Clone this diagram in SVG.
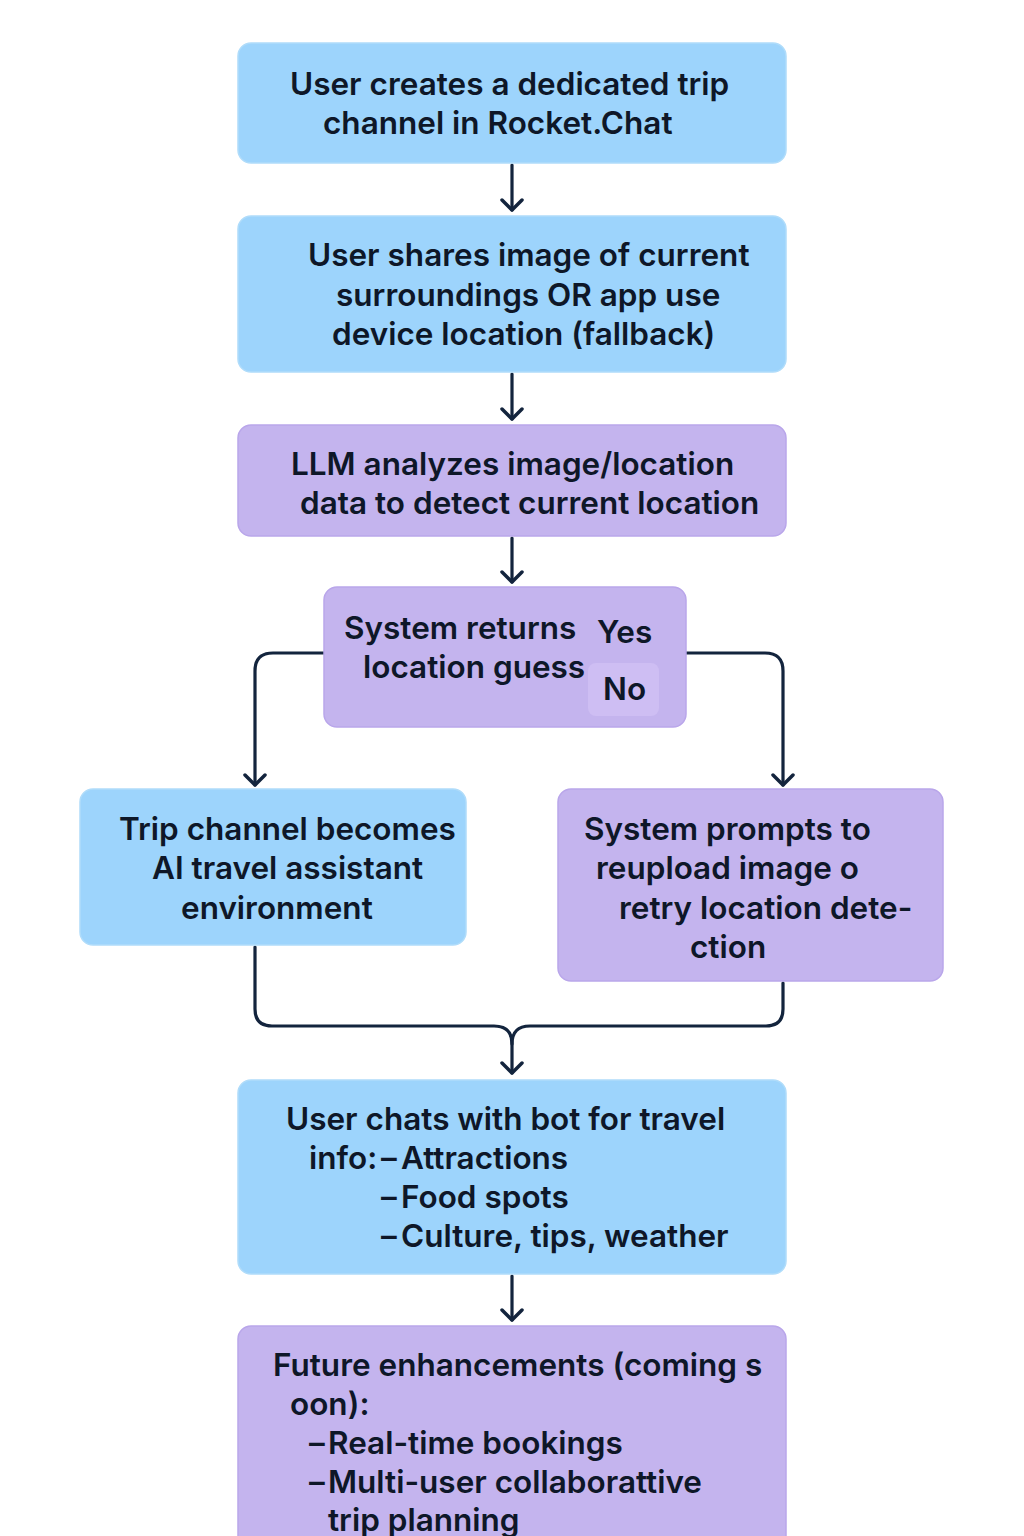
<svg xmlns="http://www.w3.org/2000/svg" width="1024" height="1536" viewBox="0 0 1024 1536">
<defs>
<style>
.blue{fill:#9dd4fc;stroke:#b0dcfa;stroke-width:1.5}
.purple{fill:#c4b4ee;stroke:#b9a6ea;stroke-width:1.5}
.t{font-family:Inter,Roboto,"Liberation Sans",sans-serif;font-weight:600;font-size:31.5px;fill:#0e1728}
.c{fill:none;stroke:#13243d;stroke-width:3.2;stroke-linecap:round;stroke-linejoin:round}
</style>
<marker id="ah" viewBox="0 0 24 24" refX="20" refY="12" markerWidth="24" markerHeight="24" markerUnits="userSpaceOnUse" orient="auto">
<path d="M10 2 L20 12 L10 22" fill="none" stroke="#13243d" stroke-width="3.5" stroke-linecap="round" stroke-linejoin="round"/>
</marker>
</defs>
<rect width="1024" height="1536" fill="#ffffff"/>

<g id="connectors">
<path class="c" d="M512 165 V210" marker-end="url(#ah)"/>
<path class="c" d="M512 374 V419" marker-end="url(#ah)"/>
<path class="c" d="M512 538 V582" marker-end="url(#ah)"/>
<path class="c" d="M324 653 H273 Q255 653 255 671 V785" marker-end="url(#ah)"/>
<path class="c" d="M686 653 H765 Q783 653 783 671 V785" marker-end="url(#ah)"/>
<path class="c" d="M255 947 V1009 Q255 1026 272 1026 H494 Q512 1026 512 1044 V1073" marker-end="url(#ah)"/>
<path class="c" d="M783 983 V1009 Q783 1026 766 1026 H530 Q512 1026 512 1044"/>
<path class="c" d="M512 1276 V1320" marker-end="url(#ah)"/>
</g>

<g id="n1">
<rect class="blue" x="238" y="43" width="548" height="120" rx="13"/>
<text class="t" x="290" y="95">User creates a dedicated trip</text>
<text class="t" x="323" y="134">channel in Rocket.Chat</text>
</g>

<g id="n2">
<rect class="blue" x="238" y="216" width="548" height="156" rx="13"/>
<text class="t" x="308" y="266">User shares image of current</text>
<text class="t" x="336" y="306">surroundings OR app use</text>
<text class="t" x="332" y="345">device location (fallback)</text>
</g>

<g id="n3">
<rect class="purple" x="238" y="425" width="548" height="111" rx="13"/>
<text class="t" x="291" y="475">LLM analyzes image/location</text>
<text class="t" x="300" y="514">data to detect current location</text>
</g>

<g id="n4">
<rect class="purple" x="324" y="587" width="362" height="140" rx="13"/>
<text class="t" x="344" y="639">System returns</text>
<text class="t" x="363" y="678">location guess</text>
<text class="t" x="597" y="643">Yes</text>
<rect x="588" y="663" width="71" height="53" rx="8" fill="#cebef3"/>
<text class="t" x="603" y="700">No</text>
</g>

<g id="n5">
<rect class="blue" x="80" y="789" width="386" height="156" rx="13"/>
<text class="t" x="119" y="840">Trip channel becomes</text>
<text class="t" x="152" y="879">AI travel assistant</text>
<text class="t" x="181" y="919">environment</text>
</g>

<g id="n6">
<rect class="purple" x="558" y="789" width="385" height="192" rx="13"/>
<text class="t" x="584" y="840">System prompts to</text>
<text class="t" x="596" y="879">reupload image o</text>
<text class="t" x="619" y="919">retry location dete-</text>
<text class="t" x="690" y="958">ction</text>
</g>

<g id="n7">
<rect class="blue" x="238" y="1080" width="548" height="194" rx="13"/>
<text class="t" x="286" y="1130">User chats with bot for travel</text>
<text class="t" x="309" y="1169">info:<tspan x="381">–</tspan><tspan x="401">Attractions</tspan></text>
<text class="t" x="381" y="1208">–<tspan x="401">Food spots</tspan></text>
<text class="t" x="381" y="1247">–<tspan x="401">Culture, tips, weather</tspan></text>
</g>

<g id="n8">
<rect class="purple" x="238" y="1326" width="548" height="230" rx="13"/>
<text class="t" x="273" y="1376">Future enhancements (coming s</text>
<text class="t" x="290" y="1415">oon):</text>
<text class="t" x="309" y="1454">–<tspan x="328">Real-time bookings</tspan></text>
<text class="t" x="309" y="1493">–<tspan x="328">Multi-user collaborattive</tspan></text>
<text class="t" x="328" y="1531">trip planning</text>
</g>
</svg>
